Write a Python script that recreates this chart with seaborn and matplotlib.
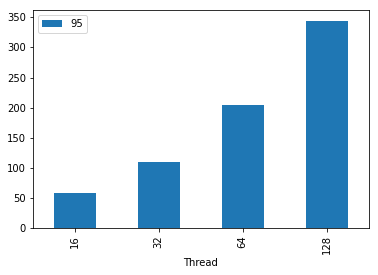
import matplotlib
matplotlib.use("Agg")
import matplotlib.pyplot as plt
import seaborn as sns
import pandas as pd

threads = ["16", "32", "64", "128"]
values = [58.5, 110, 204.5, 344]
series_name = "95"

df = pd.DataFrame({"Thread": threads, "value": values})

fig, ax = plt.subplots(figsize=(378 / 72, 275 / 72), dpi=72)
fig.subplots_adjust(left=0.087, right=0.975, top=0.9625, bottom=0.17)

sns.barplot(data=df, x="Thread", y="value", order=threads, color="#1f77b4",
            saturation=1, width=0.5, label=series_name, ax=ax)
ax.set_xlim(-0.5, 3.5)
ax.set_ylim(0, 361.5)
ax.set_ylabel("")
ax.set_xlabel("Thread")
ax.set_yticks([0, 50, 100, 150, 200, 250, 300, 350])
plt.setp(ax.get_xticklabels(), rotation=90)
ax.legend(loc="upper left")

fig.savefig("out.png", dpi=72)
